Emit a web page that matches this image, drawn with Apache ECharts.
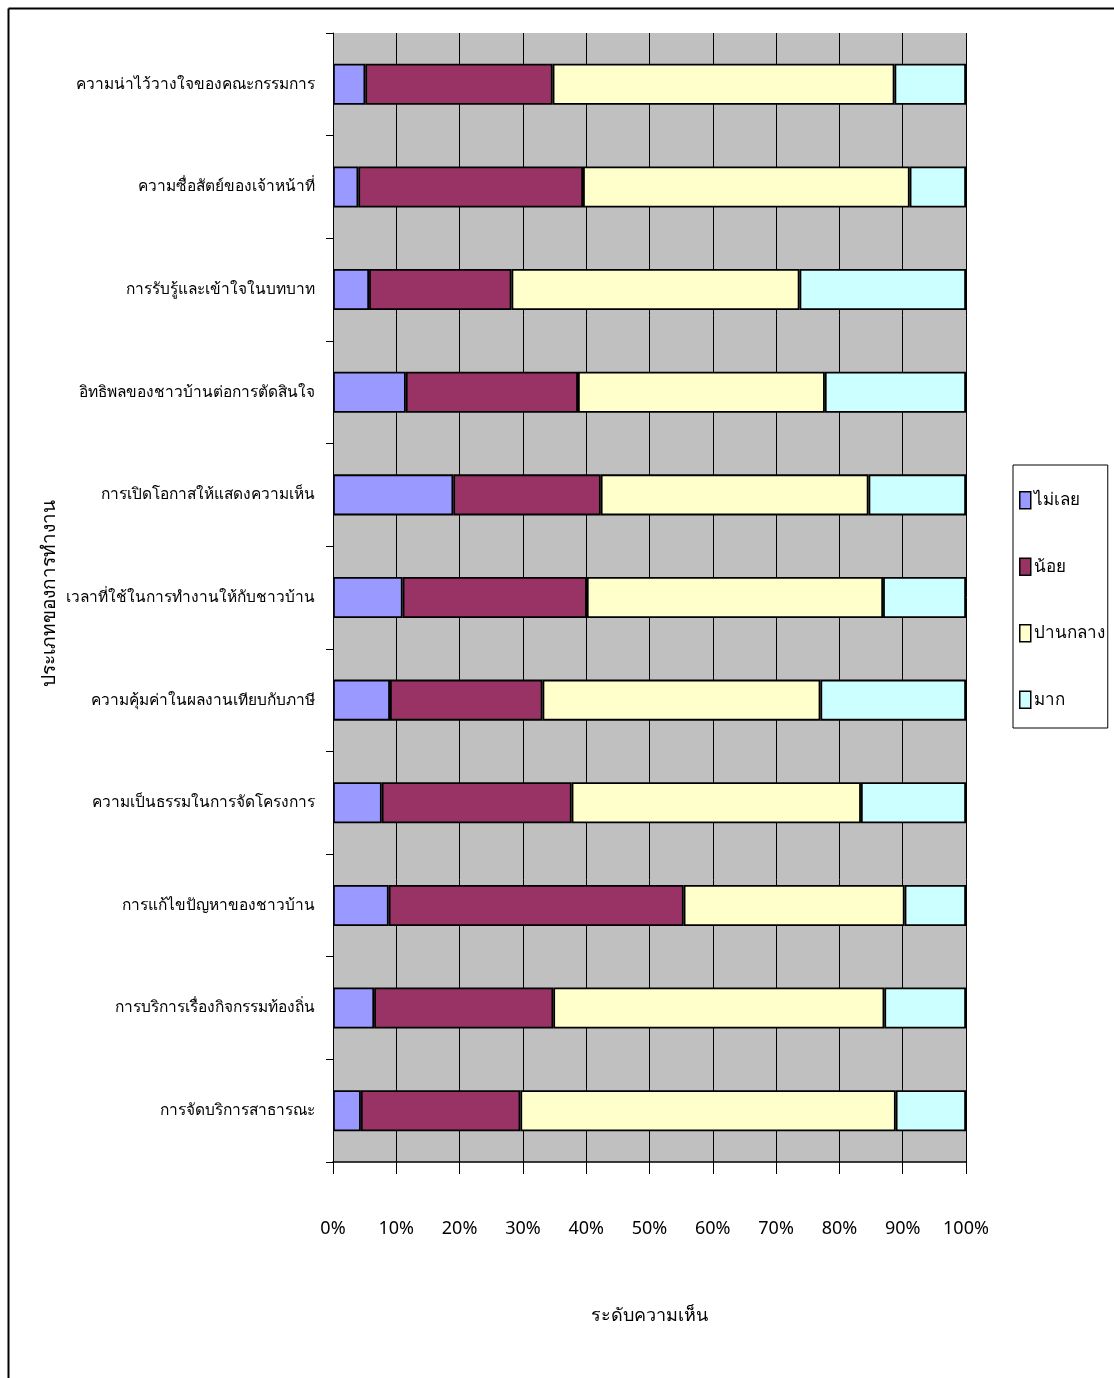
<!DOCTYPE html>
<html>
<head>
<meta charset="utf-8">
<script src="https://cdn.jsdelivr.net/npm/echarts@6/dist/echarts.min.js"></script>
<style>
  html, body { margin: 0; padding: 0; background: #ffffff; }
  #chart { width: 1114px; height: 1378px; }
</style>
</head>
<body>
<div id="chart"></div>
<script>
// Work categories, listed top to bottom
const categories = [
  'ความน่าไว้วางใจของคณะกรรมการ',
  'ความซื่อสัตย์ของเจ้าหน้าที่',
  'การรับรู้และเข้าใจในบทบาท',
  'อิทธิพลของชาวบ้านต่อการตัดสินใจ',
  'การเปิดโอกาสให้แสดงความเห็น',
  'เวลาที่ใช้ในการทำงานให้กับชาวบ้าน',
  'ความคุ้มค่าในผลงานเทียบกับภาษี',
  'ความเป็นธรรมในการจัดโครงการ',
  'การแก้ไขปัญหาของชาวบ้าน',
  'การบริการเรื่องกิจกรรมท้องถิ่น',
  'การจัดบริการสาธารณะ'
];

// Share of respondents (%) at each opinion level
const notAtAll = [5.1, 4.0, 5.7, 11.5, 19.0, 11.0, 9.0, 7.7, 8.8, 6.5, 4.4];
const little   = [29.6, 35.5, 22.5, 27.2, 23.3, 29.1, 24.1, 30.0, 46.6, 28.3, 25.2];
const moderate = [54.0, 51.6, 45.5, 39.0, 42.3, 46.8, 43.9, 45.7, 34.9, 52.3, 59.3];
const much     = [11.3, 8.9, 26.3, 22.3, 15.4, 13.1, 23.0, 16.6, 9.7, 12.9, 11.1];

const seriesNames = ['ไม่เลย', 'น้อย', 'ปานกลาง', 'มาก'];
const xTicks = ['0%', '10%', '20%', '30%', '40%', '50%', '60%', '70%', '80%', '90%', '100%'];
const yTitle = 'ประเภทของการทำงาน';

const colors = ['#9999FF', '#993366', '#FFFFCC', '#CCFFFF'];
const FONT = "'Noto Sans', 'DejaVu Sans', sans-serif";

const chart = echarts.init(document.getElementById('chart'), null, { renderer: 'canvas' });

const seriesData = [notAtAll, little, moderate, much];

chart.setOption({
  animation: false,
  backgroundColor: '#ffffff',
  textStyle: { fontFamily: FONT, color: '#000' },
  grid: {
    left: 333, right: 148, top: 33, bottom: 216,
    show: true, backgroundColor: '#C0C0C0', borderWidth: 0
  },
  legend: {
    orient: 'vertical',
    left: 1013, top: 465,
    itemGap: 48,
    itemWidth: 11, itemHeight: 17,
    icon: 'rect',
    backgroundColor: '#ffffff',
    borderColor: '#000', borderWidth: 1,
    padding: [26, 3, 19, 6],
    textStyle: { fontFamily: FONT, fontSize: 17, color: '#000', padding: [0, 0, 0, -2] },
    itemStyle: { borderColor: '#000', borderWidth: 1.5 },
    data: seriesNames
  },
  xAxis: {
    type: 'value', min: 0, max: 100, interval: 10,
    name: 'ระดับความเห็น', nameLocation: 'middle', nameGap: 145,
    nameTextStyle: { fontFamily: FONT, fontSize: 18, color: '#000' },
    axisLine: { show: true, lineStyle: { color: '#000', width: 1.5 } },
    axisTick: { show: true, length: 12, lineStyle: { color: '#000' } },
    axisLabel: {
      margin: 58, fontSize: 18, color: '#000', fontFamily: FONT,
      formatter: v => xTicks[Math.round(v / 10)]
    },
    splitLine: { show: true, lineStyle: { color: '#000', width: 1 } }
  },
  yAxis: {
    type: 'category', inverse: true, data: categories,
    axisLine: { show: true, lineStyle: { color: '#000', width: 1 } },
    axisTick: { show: true, length: 7, lineStyle: { color: '#000' } },
    axisLabel: { margin: 18, fontSize: 15.5, color: '#000', fontFamily: FONT },
    splitLine: { show: false }
  },
  series: seriesData.map((d, i) => ({
    name: seriesNames[i],
    type: 'bar',
    stack: 'total',
    barWidth: '40%',
    data: d,
    itemStyle: { color: colors[i], borderColor: '#000', borderWidth: 1.8 }
  })),
  graphic: [
    // page frame
    { type: 'line', shape: { x1: 8.5, y1: 8.5, x2: 1114, y2: 8.5 }, style: { stroke: '#000', lineWidth: 2 } },
    { type: 'line', shape: { x1: 8.5, y1: 8.5, x2: 8.5, y2: 1378 }, style: { stroke: '#000', lineWidth: 2 } },
    // vertical category-axis title
    {
      type: 'text', x: 50, y: 593, rotation: Math.PI / 2,
      style: {
        text: yTitle, fontFamily: FONT, fontSize: 19, fill: '#000',
        align: 'center', verticalAlign: 'middle'
      }
    }
  ]
});
</script>
</body>
</html>
